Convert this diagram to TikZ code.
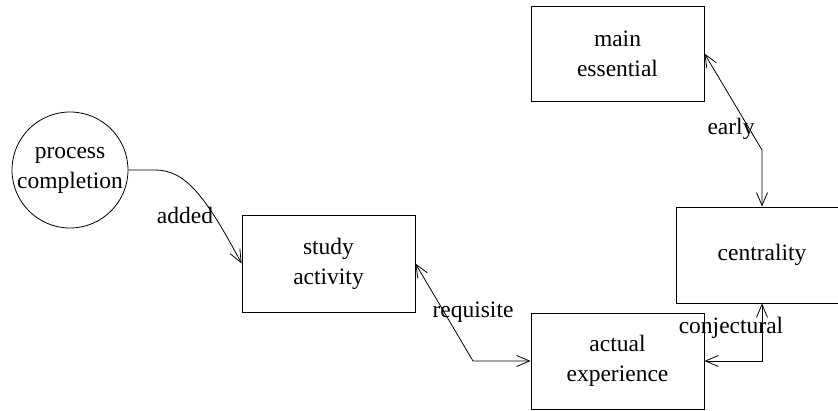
\documentclass[tikz,border=0pt]{standalone}
\usepackage{fontspec}
\setmainfont{Liberation Serif}
\newfontfamily\serf{Liberation Serif}
\usetikzlibrary{arrows.meta}
\begin{document}
\begin{tikzpicture}[x=1pt,y=-1pt,
  lbl/.style={font=\serf\fontsize{23.5}{30}\selectfont, align=center},
  boxn/.style={draw, line width=0.8pt, lbl, inner sep=0pt},
  conn/.style={line width=0.8pt, -{Straight Barb[length=13pt,width=11pt,line width=0.8pt]}},
  conn2/.style={line width=0.8pt, {Straight Barb[length=13pt,width=11pt,line width=0.8pt]}-{Straight Barb[length=13pt,width=11pt,line width=0.8pt]}},
  elbl/.style={font=\serf\fontsize{23.5}{30}\selectfont, inner sep=0pt}]
\useasboundingbox (0,0) rectangle (838,411);
\begin{scope}
\clip (0,0) rectangle (838,411);
\node[draw, circle, line width=0.8pt, minimum size=116pt, inner sep=0pt, lbl] (pc) at (70,170) {process\\completion};
\node[boxn, minimum width=173pt, minimum height=97pt] (sa) at (328.5,263.5) {study\\activity};
\node[boxn, minimum width=173pt, minimum height=96pt] (ae) at (617.5,361) {actual\\experience};
\node[boxn, minimum width=172pt, minimum height=96pt] (ce) at (762,255) {centrality};
\node[boxn, minimum width=173pt, minimum height=95pt] (me) at (617.5,53.5) {main\\essential};
\end{scope}
\coordinate (c1) at (473,361);
\coordinate (c2) at (762,361);
\coordinate (c3) at (762,150);
\draw[conn] (pc.east) -- (155,170) .. controls (185,170) and (205,195) .. (sa.west);
\draw[conn2] (sa.east) -- (c1) -- (ae.west);
\draw[conn2] (ae.east) -- (c2) -- (ce.south);
\draw[conn2] (me.east) -- (c3) -- (ce.north);
\node[elbl] (l1) at (185,215) {added};
\node[elbl] (l2) at (473,312) {requisite};
\node[elbl] (l3) at (731,328) {conjectural};
\node[elbl] (l4) at (731,129) {early};
\end{tikzpicture}
\end{document}
